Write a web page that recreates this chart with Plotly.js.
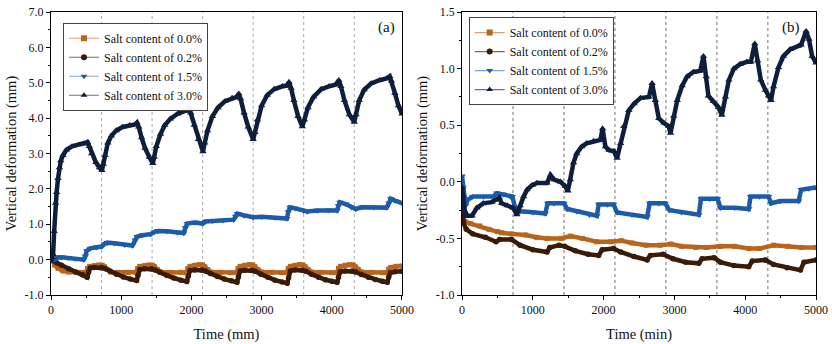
<!DOCTYPE html>
<html><head><meta charset="utf-8">
<script src="https://cdn.plot.ly/plotly-3.0.1.min.js"></script>
<style>html,body{margin:0;padding:0;background:#fff;}#chart{width:832px;height:344px;}</style>
</head><body><div id="chart"></div>
<script>
// ---------- Panel (a) ----------
const a00_t = [0,20,50,100,170,250,400,500,520,550,620,680,730,760,800,850,950,1100,1215,1235,1265,1335,1395,1445,1475,1515,1565,1700,1850,1930,1950,1980,2050,2110,2160,2190,2230,2280,2420,2560,2645,2665,2695,2765,2825,2875,2905,2945,2995,3150,3280,3360,3380,3410,3480,3540,3590,3620,3660,3710,3850,4000,4075,4095,4125,4195,4255,4305,4335,4375,4425,4570,4720,4790,4810,4840,4920,5000];
const a00_v = [0.10,0.00,-0.15,-0.25,-0.32,-0.35,-0.36,-0.36,-0.25,-0.19,-0.17,-0.15,-0.16,-0.20,-0.28,-0.35,-0.36,-0.36,-0.36,-0.25,-0.19,-0.17,-0.15,-0.16,-0.20,-0.28,-0.35,-0.36,-0.36,-0.37,-0.25,-0.19,-0.16,-0.14,-0.15,-0.20,-0.28,-0.35,-0.36,-0.37,-0.37,-0.25,-0.19,-0.16,-0.14,-0.15,-0.20,-0.28,-0.35,-0.36,-0.37,-0.37,-0.25,-0.19,-0.16,-0.14,-0.15,-0.20,-0.28,-0.35,-0.36,-0.37,-0.37,-0.25,-0.19,-0.16,-0.14,-0.15,-0.20,-0.28,-0.35,-0.36,-0.37,-0.37,-0.27,-0.22,-0.19,-0.18];

const a02_t = [0,30,80,150,250,350,450,515,535,560,620,720,770,840,930,1030,1130,1220,1240,1265,1330,1430,1480,1550,1650,1750,1850,1935,1955,1980,2050,2150,2200,2270,2370,2470,2570,2650,2670,2695,2760,2860,2910,2990,3090,3190,3290,3365,3385,3410,3480,3580,3630,3710,3810,3910,4000,4075,4095,4120,4190,4290,4340,4420,4520,4620,4720,4790,4810,4835,4900,5000];
const a02_v = [0.02,-0.03,-0.09,-0.16,-0.26,-0.35,-0.43,-0.50,-0.36,-0.24,-0.22,-0.22,-0.25,-0.32,-0.41,-0.49,-0.55,-0.59,-0.44,-0.28,-0.26,-0.26,-0.29,-0.36,-0.45,-0.52,-0.58,-0.62,-0.47,-0.31,-0.29,-0.29,-0.32,-0.39,-0.48,-0.55,-0.60,-0.64,-0.49,-0.32,-0.30,-0.30,-0.33,-0.41,-0.50,-0.58,-0.63,-0.67,-0.51,-0.32,-0.29,-0.30,-0.33,-0.41,-0.50,-0.57,-0.61,-0.64,-0.50,-0.34,-0.32,-0.32,-0.35,-0.42,-0.50,-0.56,-0.61,-0.64,-0.50,-0.37,-0.34,-0.33];

const a15_t = [0,20,50,100,150,250,350,465,490,510,560,650,720,760,800,900,1050,1160,1200,1225,1300,1420,1470,1520,1650,1800,1890,1915,1940,2050,2160,2200,2300,2450,2600,2630,2655,2750,2880,3000,3200,3360,3380,3405,3480,3600,3650,3800,3950,4075,4095,4115,4200,4280,4340,4420,4600,4780,4815,4840,4900,5000];
const a15_v = [0.07,0.02,0.00,0.06,0.07,0.05,0.03,0.00,0.10,0.25,0.32,0.35,0.37,0.44,0.48,0.46,0.42,0.40,0.55,0.65,0.69,0.72,0.78,0.81,0.80,0.77,0.75,0.90,1.02,1.05,1.02,1.08,1.10,1.11,1.13,1.22,1.30,1.25,1.20,1.21,1.19,1.16,1.35,1.48,1.45,1.38,1.36,1.39,1.40,1.39,1.52,1.62,1.57,1.48,1.43,1.48,1.48,1.47,1.60,1.72,1.67,1.60];

const a30_t = [0,15,30,45,65,80,100,120,140,170,220,300,400,480,520,545,580,640,690,725,745,770,810,860,930,1020,1120,1200,1225,1250,1290,1340,1400,1450,1470,1500,1560,1620,1700,1800,1900,1940,1965,1990,2040,2100,2165,2190,2230,2300,2380,2480,2580,2650,2675,2700,2750,2810,2880,2905,2940,3000,3080,3180,3300,3360,3390,3420,3460,3520,3580,3610,3660,3740,3850,3960,4060,4100,4130,4180,4250,4320,4345,4390,4460,4560,4680,4780,4825,4850,4900,4950,5000];
const a30_v = [0.00,0.05,0.15,0.80,1.60,1.90,2.30,2.60,2.80,2.95,3.10,3.20,3.25,3.27,3.32,3.20,3.00,2.75,2.60,2.52,2.70,2.95,3.30,3.50,3.65,3.75,3.80,3.82,3.87,3.75,3.45,3.15,2.90,2.72,2.90,3.20,3.55,3.80,3.98,4.12,4.20,4.22,4.30,4.15,3.80,3.40,3.05,3.30,3.65,4.05,4.30,4.48,4.57,4.60,4.69,4.55,4.15,3.75,3.40,3.60,3.95,4.35,4.65,4.82,4.90,4.92,5.02,4.85,4.50,4.05,3.76,3.95,4.30,4.60,4.82,4.90,4.95,5.07,4.90,4.50,4.10,3.89,4.10,4.50,4.80,4.98,5.07,5.12,5.18,5.05,4.70,4.35,4.12];

// ---------- Panel (b) ----------
const b00_t = [0,40,120,250,380,500,560,700,900,1050,1200,1400,1530,1700,1900,2100,2250,2400,2600,2800,2950,3100,3300,3450,3650,3850,4050,4200,4400,4600,4800,5000];
const b00_v = [-0.30,-0.35,-0.37,-0.39,-0.42,-0.44,-0.45,-0.46,-0.47,-0.49,-0.50,-0.50,-0.48,-0.50,-0.53,-0.53,-0.52,-0.54,-0.56,-0.56,-0.55,-0.57,-0.58,-0.58,-0.57,-0.57,-0.59,-0.59,-0.56,-0.57,-0.58,-0.58];

const b02_t = [0,20,60,150,330,480,530,700,820,1000,1200,1240,1370,1450,1600,1780,1930,1980,2140,2240,2430,2615,2660,2840,2980,3160,3345,3390,3560,3650,3840,4050,4100,4285,4400,4590,4780,4830,5000];
const b02_v = [-0.21,-0.36,-0.42,-0.46,-0.49,-0.53,-0.51,-0.51,-0.56,-0.60,-0.62,-0.58,-0.56,-0.57,-0.61,-0.64,-0.65,-0.60,-0.59,-0.62,-0.66,-0.69,-0.65,-0.64,-0.68,-0.71,-0.72,-0.68,-0.67,-0.71,-0.74,-0.75,-0.70,-0.69,-0.73,-0.76,-0.78,-0.71,-0.69];

const b15_t = [0,15,30,50,80,150,300,440,490,580,680,710,755,820,1000,1175,1210,1300,1440,1485,1620,1800,1905,1930,2050,2140,2190,2400,2615,2650,2780,2870,2930,3100,3345,3375,3500,3610,3650,3850,4050,4075,4200,4330,4365,4500,4755,4790,4900,5000];
const b15_v = [0.05,-0.05,-0.15,-0.21,-0.16,-0.13,-0.13,-0.13,-0.10,-0.11,-0.13,-0.13,-0.24,-0.26,-0.27,-0.28,-0.19,-0.19,-0.19,-0.24,-0.26,-0.29,-0.30,-0.20,-0.20,-0.20,-0.27,-0.29,-0.31,-0.19,-0.19,-0.19,-0.25,-0.27,-0.29,-0.15,-0.15,-0.15,-0.23,-0.23,-0.24,-0.13,-0.13,-0.13,-0.19,-0.17,-0.17,-0.07,-0.06,-0.05];

const b30_t = [0,15,40,70,140,210,300,420,490,525,560,640,720,775,820,870,920,990,1060,1200,1250,1300,1390,1460,1495,1530,1575,1620,1690,1760,1860,1955,1985,2025,2075,2145,2190,2240,2285,2355,2430,2520,2640,2685,2730,2780,2850,2920,2945,2990,3040,3110,3180,3270,3365,3410,3450,3480,3550,3620,3670,3720,3770,3840,3930,4025,4080,4135,4175,4220,4285,4330,4365,4400,4470,4540,4635,4755,4790,4860,4900,4945,5000];
const b30_v = [-0.05,-0.12,-0.26,-0.30,-0.30,-0.23,-0.19,-0.18,-0.16,-0.14,-0.19,-0.21,-0.23,-0.29,-0.21,-0.13,-0.07,-0.03,-0.01,-0.01,0.06,0.02,0.00,-0.04,-0.08,0.02,0.17,0.25,0.31,0.34,0.36,0.37,0.47,0.31,0.28,0.27,0.21,0.34,0.49,0.63,0.69,0.74,0.75,0.87,0.72,0.56,0.52,0.49,0.43,0.58,0.72,0.85,0.93,0.97,0.98,1.11,0.93,0.76,0.71,0.66,0.59,0.75,0.90,1.00,1.04,1.06,1.06,1.22,1.07,0.90,0.81,0.76,0.72,0.84,1.01,1.11,1.17,1.20,1.21,1.33,1.26,1.11,1.05];

// ---------- ticks / reference lines ----------
const xTickVals = [0,1000,2000,3000,4000,5000];
const yTickValsA = [-1,0,1,2,3,4,5,6,7];
const yTickTextA = ['-1.0','0.0','1.0','2.0','3.0','4.0','5.0','6.0','7.0'];
const yTickValsB = [-1,-0.5,0,0.5,1,1.5];
const yTickTextB = ['-1.0','-0.5','0.0','0.5','1.0','1.5'];
const cycleTimes = [720,1440,2160,2880,3600,4320];

const names = ['Salt content of 0.0%','Salt content of 0.2%','Salt content of 1.5%','Salt content of 3.0%'];
const colors = ['#B8651B','#3A1B07','#1C5BAA','#0E1F3D'];
const lineColors = ['#D2A27A','#7A6A60','#7FA6D6','#6A7386'];
const symbols = ['square','circle','triangle-down','triangle-up'];
const msizes = [5,5.5,6.5,6.5];

const seriesA = [[a00_t,a00_v],[a02_t,a02_v],[a15_t,a15_v],[a30_t,a30_v]];
const seriesB = [[b00_t,b00_v],[b02_t,b02_v],[b15_t,b15_v],[b30_t,b30_v]];

const FONT = 'Liberation Serif';
const traces = [];
function addSeries(series, xa, ya, leg) {
  series.forEach((s, i) => {
    traces.push({
      x: s[0], y: s[1], type: 'scatter', mode: 'lines+markers', name: names[i],
      xaxis: xa, yaxis: ya, legend: leg, showlegend: false,
      line: {color: colors[i], width: 4.5},
      marker: {symbol: symbols[i], size: msizes[i], color: colors[i]}
    });
  });
  // legend entries (thin light line + marker, as in the reference key)
  series.forEach((s, i) => {
    traces.push({
      x: [null], y: [null], type: 'scatter', mode: 'lines+markers', name: names[i],
      xaxis: xa, yaxis: ya, legend: leg, showlegend: true,
      line: {color: lineColors[i], width: 1.2},
      marker: {symbol: symbols[i], size: 6, color: colors[i]}
    });
  });
}
addSeries(seriesA, 'x', 'y', 'legend');
addSeries(seriesB, 'x2', 'y2', 'legend2');

const shapes = [];
cycleTimes.forEach(t => {
  shapes.push({type:'line', xref: 'x', yref: 'y domain', x0: t, x1: t, y0: 0, y1: 1,
    line: {color: '#A8A8A8', width: 1, dash: '3px,3px'}, layer: 'below'});
  shapes.push({type:'line', xref: 'x2', yref: 'y2 domain', x0: t, x1: t, y0: 0, y1: 1,
    line: {color: '#707070', width: 1, dash: '3px,3px'}, layer: 'below'});
});

const axisBase = {
  showline: true, linecolor: '#000', linewidth: 1, mirror: true,
  ticks: 'outside', ticklen: 4, tickcolor: '#000', showgrid: false, zeroline: false,
  tickfont: {family: FONT, size: 12, color: '#111'}
};
const xTitle = (txt) => ({text: txt, font: {family: FONT, size: 14.5, color: '#111'}, standoff: 12});
const yTitle = {text: 'Vertical deformation (mm)', font: {family: FONT, size: 14.5, color: '#111'}, standoff: 4};
const minorX = {dtick: 500, ticklen: 2, ticks: 'outside', tickcolor: '#000'};

const legendBase = {
  font: {family: FONT, size: 12, color: '#111'}, bordercolor: '#444', borderwidth: 1,
  bgcolor: 'rgba(255,255,255,0.95)', xanchor: 'left', yanchor: 'top', tracegroupgap: 0, itemwidth: 30
};

const layout = {
  width: 832, height: 344, paper_bgcolor: '#fff', plot_bgcolor: '#fff',
  margin: {l: 51, r: 16, t: 12, b: 49},
  showlegend: true,
  xaxis: Object.assign({}, axisBase, {domain: [0, 0.4588], range: [0, 5000], tickmode: 'array', tickvals: xTickVals,
    minor: minorX, title: xTitle('Time (mm)'), anchor: 'y'}),
  yaxis: Object.assign({}, axisBase, {range: [-1, 7], tickmode: 'array', tickvals: yTickValsA, ticktext: yTickTextA,
    minor: {dtick: 0.5, ticklen: 2, ticks: 'outside', tickcolor: '#000'}, title: yTitle, anchor: 'x'}),
  xaxis2: Object.assign({}, axisBase, {domain: [0.5373, 1], range: [0, 5000], tickmode: 'array', tickvals: xTickVals,
    minor: minorX, title: xTitle('Time (min)'), anchor: 'y2'}),
  yaxis2: Object.assign({}, axisBase, {range: [-1, 1.5], tickmode: 'array', tickvals: yTickValsB, ticktext: yTickTextB,
    minor: {dtick: 0.25, ticklen: 2, ticks: 'outside', tickcolor: '#000'}, title: yTitle, anchor: 'x2'}),
  legend: Object.assign({}, legendBase, {x: 0.0157, y: 0.962}),
  legend2: Object.assign({}, legendBase, {x: 0.546, y: 0.982}),
  shapes: shapes,
  annotations: [
    {text: '(a)', xref: 'paper', yref: 'paper', x: 0.4588, y: 1, xanchor: 'right', yanchor: 'top', xshift: -5, yshift: -5,
      showarrow: false, font: {family: FONT, size: 15, color: '#111'}},
    {text: '(b)', xref: 'paper', yref: 'paper', x: 1, y: 1, xanchor: 'right', yanchor: 'top', xshift: -14, yshift: -5,
      showarrow: false, font: {family: FONT, size: 15, color: '#111'}}
  ]
};

Plotly.newPlot('chart', traces, layout, {displayModeBar: false, staticPlot: true});
</script>
</body></html>
